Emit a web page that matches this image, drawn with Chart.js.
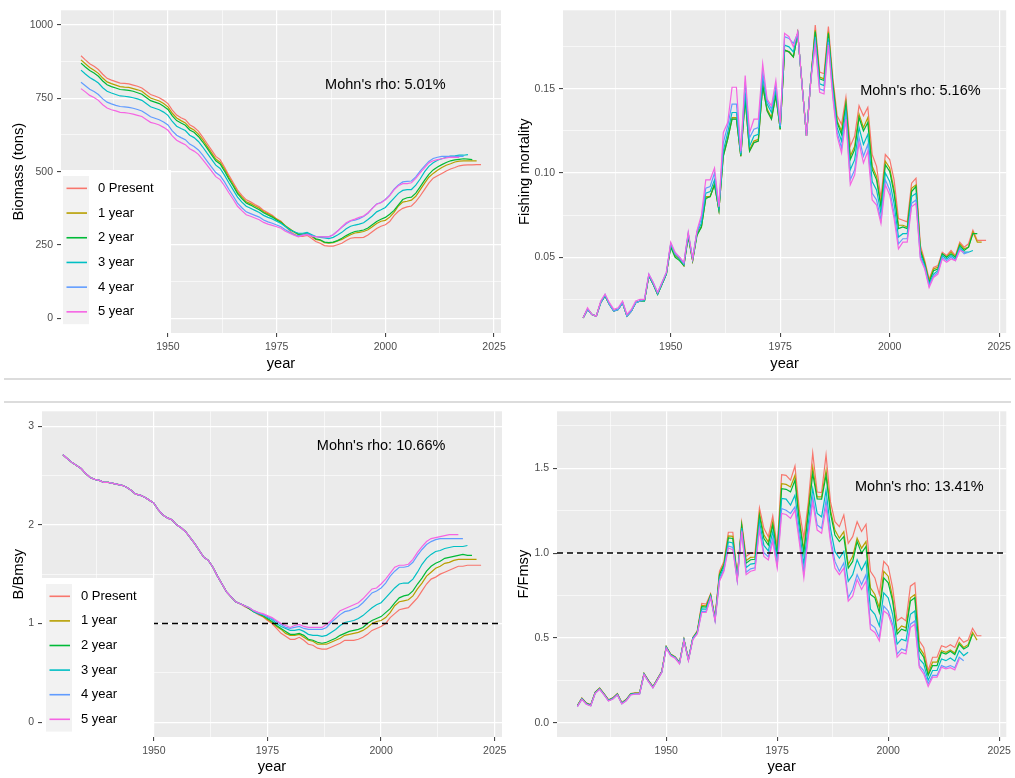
<!DOCTYPE html>
<html>
<head>
<meta charset="utf-8">
<title>Retrospective analysis</title>
<script src="https://cdn.jsdelivr.net/npm/chart.js@4.4.0/dist/chart.umd.min.js"></script>
<style>
  html, body { margin: 0; padding: 0; background: #fff; }
  #page { position: relative; width: 1015px; height: 778px; overflow: hidden; }
  #page canvas { position: absolute; }
  .rule { position: absolute; left: 4px; width: 1007px; height: 1.5px; background: #dcdcdc; }
</style>
</head>
<body>
<div id="page">
  <canvas id="cBio" width="520" height="378" style="left:0;top:0"></canvas>
  <canvas id="cF" width="510" height="378" style="left:505px;top:0"></canvas>
  <div class="rule" style="top:378px"></div>
  <div class="rule" style="top:401px"></div>
  <canvas id="cBB" width="520" height="377" style="left:0;top:401px"></canvas>
  <canvas id="cFF" width="510" height="377" style="left:505px;top:401px"></canvas>
</div>
<script>
// every series starts in 1930; each retro peel drops one more year at the end
const firstYear = 1930;
const seriesNames = ["0 Present", "1 year", "2 year", "3 year", "4 year", "5 year"];
const seriesColors = ["#F8766D", "#B79F00", "#00BA38", "#00BFC4", "#619CFF", "#F564E3"];

const xTicks = [1937.5, 1950, 1962.5, 1975, 1987.5, 2000, 2012.5, 2025];
const xMajor = [1950, 1975, 2000, 2025];

// ---- Biomass (tons)
const bioPresent = [
  895,881,868,859,848,832,818,812,807,802, 801,799,795,791,785,774,763,758,752,743,
  732,710,693,684,677,660,651,638,618,596, 574,552,541,516,488,463,437,419,404,397,
  388,380,368,360,351,339,331,314,298,287, 279,279,283,273,262,256,248,246,246,251,
  256,265,273,275,275,276,284,295,306,314, 319,330,350,365,375,380,383,398,417,439,
  461,478,486,494,502,509,514,520,522,523, 523,524,524];
const bio1 = [
  881,868,855,846,835,819,806,800,795,790, 788,787,783,779,774,762,751,746,741,732,
  721,699,683,674,666,650,642,628,609,587, 565,543,532,509,481,456,430,413,397,391,
  383,375,363,356,348,338,329,316,305,294, 285,285,291,280,269,266,258,256,258,264,
  269,277,285,291,293,296,302,312,323,331, 334,345,361,383,396,399,403,416,438,460,
  481,494,505,514,522,527,533,536,537,537, 537,537];
const bio2 = [
  870,857,845,836,825,809,796,790,785,780, 779,777,774,769,764,753,742,737,732,723,
  712,690,674,666,658,642,634,620,601,580, 558,537,526,502,475,451,425,408,393,386,
  378,370,360,352,345,335,327,314,303,295, 287,287,290,282,271,268,260,258,260,265,
  273,282,290,296,298,301,308,319,330,338, 344,355,368,387,405,411,413,427,448,470,
  491,506,516,524,531,537,540,542,544,543, 541];
const bio3 = [
  846,833,821,812,802,786,774,768,763,758, 757,755,752,748,743,732,721,716,711,703,
  692,671,655,647,640,624,616,603,584,563, 543,522,511,488,462,438,413,396,382,375,
  368,361,351,344,339,331,323,313,302,295, 290,290,293,286,279,276,274,272,276,284,
  293,305,314,318,321,326,337,349,363,370, 378,394,410,426,436,439,439,454,475,499,
  518,530,539,544,549,553,554,556,556,558];
const bio4 = [
  805,793,781,773,763,748,737,731,726,722, 721,719,716,712,707,697,687,682,677,669,
  659,639,624,616,609,594,586,574,556,536, 516,497,486,465,440,417,393,377,363,357,
  351,345,335,329,324,318,312,302,293,285, 281,285,288,282,279,279,278,278,285,298,
  310,322,332,335,340,347,358,375,390,395, 405,420,440,455,465,467,468,482,502,519,
  535,545,549,552,552,552,552,552,552];
const bio5 = [
  783,772,760,753,743,728,717,711,707,702, 701,699,696,692,688,678,668,664,659,651,
  641,622,607,599,592,578,570,559,541,522, 503,483,473,452,428,406,382,367,353,348,
  342,336,327,321,317,312,307,297,290,283, 278,283,285,280,278,278,278,278,285,297,
  312,326,333,338,344,349,360,375,389,394, 404,418,438,452,459,459,462,477,496,513,
  530,537,541,544,547,549,549,549];
const bioMajor = [0, 250, 500, 750, 1000];
const bioMinor = [125, 375, 625, 875];
const bioLabels = ["0", "250", "500", "750", "1000"];

// ---- Fishing mortality
const fPresent = [
  .014,.019,.016,.015,.023,.027,.022,.018,.019,.023, .015,.018,.023,.024,.024,.039,.034,.028,.034,.040,
  .057,.051,.049,.045,.063,.048,.064,.068,.085,.086, .093,.078,.110,.120,.132,.132,.110,.144,.113,.118,
  .119,.152,.137,.132,.146,.126,.173,.172,.169,.183, .152,.122,.156,.188,.160,.159,.187,.157,.134,.129,
  .145,.116,.122,.140,.134,.139,.111,.104,.085,.111, .108,.096,.073,.072,.071,.094,.097,.057,.048,.037,
  .044,.045,.053,.051,.054,.051,.059,.056,.058,.066, .060,.060,.060];
const f1 = [
  .014,.019,.016,.015,.023,.027,.022,.018,.019,.023, .015,.018,.023,.024,.024,.039,.034,.028,.034,.040,
  .057,.051,.049,.045,.063,.048,.064,.068,.086,.086, .094,.078,.111,.121,.133,.133,.110,.145,.114,.119,
  .120,.153,.138,.133,.147,.126,.173,.172,.169,.183, .152,.122,.156,.185,.157,.156,.184,.154,.131,.125,
  .142,.110,.116,.135,.127,.133,.104,.098,.081,.107, .103,.090,.069,.069,.068,.091,.093,.055,.047,.036,
  .043,.044,.052,.050,.053,.050,.058,.055,.056,.065, .059,.059];
const f2 = [
  .014,.019,.016,.015,.023,.027,.022,.018,.019,.023, .015,.018,.023,.024,.024,.039,.034,.028,.034,.040,
  .056,.050,.048,.045,.062,.048,.063,.068,.085,.086, .093,.078,.110,.120,.132,.132,.110,.144,.113,.118,
  .119,.152,.137,.132,.146,.126,.173,.172,.169,.183, .152,.122,.156,.184,.156,.155,.183,.153,.130,.123,
  .141,.108,.114,.133,.125,.130,.102,.096,.080,.105, .101,.088,.067,.068,.067,.089,.092,.054,.046,.035,
  .042,.043,.052,.050,.052,.050,.057,.054,.056,.064, .064];
const f3 = [
  .014,.019,.016,.015,.023,.027,.022,.018,.019,.023, .015,.018,.023,.024,.024,.039,.034,.028,.034,.040,
  .058,.052,.049,.046,.064,.049,.065,.070,.088,.089, .096,.079,.113,.124,.136,.136,.111,.148,.116,.122,
  .123,.157,.141,.136,.150,.127,.176,.175,.172,.183, .152,.122,.156,.181,.153,.152,.180,.150,.127,.119,
  .137,.102,.108,.127,.117,.123,.095,.090,.076,.100, .095,.082,.062,.064,.064,.086,.088,.052,.045,.034,
  .040,.042,.051,.049,.051,.049,.056,.053,.053,.054];
const f4 = [
  .014,.019,.016,.015,.023,.028,.022,.018,.019,.023, .015,.018,.023,.024,.025,.040,.035,.029,.035,.041,
  .058,.052,.050,.046,.064,.049,.065,.073,.091,.092, .100,.080,.118,.128,.141,.141,.112,.154,.121,.126,
  .127,.160,.143,.138,.152,.128,.181,.180,.177,.183, .152,.122,.156,.178,.150,.149,.178,.147,.124,.115,
  .134,.096,.102,.121,.110,.117,.088,.084,.072,.096, .090,.076,.058,.061,.061,.082,.084,.050,.044,.033,
  .039,.041,.050,.048,.050,.048,.055,.052,.053];
const f5 = [
  .014,.020,.016,.015,.024,.028,.023,.019,.020,.024, .016,.019,.024,.025,.025,.040,.035,.029,.035,.041,
  .059,.053,.050,.047,.065,.049,.066,.075,.096,.096, .103,.080,.124,.130,.151,.151,.113,.158,.124,.132,
  .132,.165,.144,.140,.155,.130,.183,.181,.175,.184, .152,.122,.155,.176,.148,.147,.176,.145,.122,.112,
  .132,.093,.099,.118,.106,.113,.084,.081,.070,.093, .087,.073,.055,.059,.059,.080,.082,.049,.043,.032,
  .038,.040,.049,.047,.049,.048,.054,.053];
const fMajor = [0.05, 0.10, 0.15];
const fMinor = [0.025, 0.075, 0.125, 0.175];
const fLabels = ["0.05", "0.10", "0.15"];

// ---- B/Bmsy
const bbPresent = [
  2.71,2.67,2.63,2.60,2.57,2.52,2.48,2.46,2.45,2.43, 2.43,2.42,2.41,2.40,2.38,2.35,2.31,2.30,2.28,2.25,
  2.22,2.15,2.10,2.07,2.05,2.00,1.97,1.93,1.87,1.81, 1.74,1.67,1.64,1.57,1.48,1.40,1.32,1.27,1.22,1.20,
  1.17,1.15,1.12,1.09,1.07,1.03,1.00,.95,.90,.87, .84,.84,.86,.83,.79,.78,.75,.74,.74,.76,
  .78,.80,.83,.83,.83,.84,.86,.89,.93,.95, .97,1.00,1.06,1.10,1.14,1.15,1.16,1.21,1.26,1.33,
  1.40,1.45,1.47,1.50,1.52,1.54,1.56,1.58,1.58,1.59, 1.59,1.59,1.59];
const bb1 = [
  2.71,2.67,2.63,2.60,2.57,2.52,2.48,2.46,2.45,2.43, 2.43,2.42,2.41,2.40,2.38,2.35,2.31,2.30,2.28,2.25,
  2.22,2.15,2.10,2.07,2.05,2.00,1.97,1.93,1.87,1.81, 1.74,1.67,1.64,1.57,1.48,1.40,1.32,1.27,1.22,1.20,
  1.18,1.15,1.12,1.10,1.07,1.04,1.01,.97,.94,.90, .88,.88,.89,.86,.83,.82,.79,.79,.79,.81,
  .83,.85,.88,.89,.90,.91,.93,.96,1.00,1.02, 1.03,1.06,1.11,1.18,1.22,1.23,1.24,1.28,1.35,1.41,
  1.48,1.52,1.56,1.58,1.61,1.62,1.64,1.65,1.65,1.65, 1.65,1.65];
const bb2 = [
  2.71,2.67,2.63,2.60,2.57,2.52,2.48,2.46,2.45,2.43, 2.43,2.42,2.41,2.40,2.38,2.35,2.31,2.30,2.28,2.25,
  2.22,2.15,2.10,2.07,2.05,2.00,1.97,1.93,1.87,1.81, 1.74,1.67,1.64,1.57,1.48,1.40,1.32,1.27,1.22,1.20,
  1.18,1.15,1.12,1.10,1.08,1.05,1.02,.98,.95,.92, .89,.89,.90,.88,.84,.83,.81,.80,.81,.83,
  .85,.88,.90,.92,.93,.94,.96,1.00,1.03,1.05, 1.07,1.11,1.15,1.21,1.26,1.28,1.29,1.33,1.40,1.46,
  1.53,1.58,1.61,1.63,1.66,1.67,1.68,1.69,1.70,1.69, 1.69];
const bb3 = [
  2.71,2.67,2.63,2.60,2.57,2.52,2.48,2.46,2.45,2.43, 2.43,2.42,2.41,2.40,2.38,2.35,2.31,2.30,2.28,2.25,
  2.22,2.15,2.10,2.07,2.05,2.00,1.97,1.93,1.87,1.81, 1.74,1.67,1.64,1.57,1.48,1.40,1.32,1.27,1.22,1.20,
  1.18,1.16,1.12,1.10,1.09,1.06,1.04,1.00,.97,.95, .93,.93,.94,.92,.89,.88,.88,.87,.88,.91,
  .94,.98,1.01,1.02,1.03,1.05,1.08,1.12,1.16,1.19, 1.21,1.26,1.31,1.36,1.40,1.41,1.41,1.45,1.52,1.60,
  1.66,1.70,1.73,1.74,1.76,1.77,1.78,1.78,1.78,1.79];
const bb4 = [
  2.71,2.67,2.63,2.60,2.57,2.52,2.48,2.46,2.45,2.43, 2.43,2.42,2.41,2.40,2.38,2.35,2.31,2.30,2.28,2.25,
  2.22,2.15,2.10,2.07,2.05,2.00,1.97,1.93,1.87,1.81, 1.74,1.67,1.64,1.57,1.48,1.40,1.32,1.27,1.22,1.20,
  1.18,1.16,1.13,1.11,1.09,1.07,1.05,1.02,.99,.96, .95,.96,.97,.95,.94,.94,.94,.94,.96,1.01,
  1.05,1.09,1.12,1.13,1.15,1.17,1.21,1.26,1.31,1.33, 1.36,1.41,1.48,1.53,1.57,1.57,1.58,1.62,1.69,1.75,
  1.80,1.83,1.85,1.86,1.86,1.86,1.86,1.86,1.86];
const bb5 = [
  2.71,2.67,2.63,2.60,2.57,2.52,2.48,2.46,2.45,2.43, 2.43,2.42,2.41,2.40,2.38,2.35,2.31,2.30,2.28,2.25,
  2.22,2.15,2.10,2.07,2.05,2.00,1.97,1.93,1.87,1.81, 1.74,1.67,1.64,1.57,1.48,1.40,1.32,1.27,1.22,1.20,
  1.18,1.16,1.13,1.11,1.10,1.08,1.06,1.03,1.00,.98, .96,.98,.99,.97,.96,.96,.96,.96,.99,1.03,
  1.08,1.13,1.15,1.17,1.19,1.21,1.25,1.30,1.35,1.36, 1.40,1.45,1.51,1.57,1.59,1.59,1.60,1.65,1.72,1.78,
  1.83,1.86,1.87,1.88,1.89,1.90,1.90,1.90];
const bbMajor = [0, 1, 2, 3];
const bbMinor = [0.5, 1.5, 2.5];
const bbLabels = ["0", "1", "2", "3"];

// ---- F/Fmsy
const ffPresent = [
  .103,.146,.117,.107,.181,.205,.172,.136,.148,.172, .119,.138,.172,.177,.177,.292,.250,.214,.259,.304,
  .450,.405,.390,.357,.493,.376,.503,.542,.704,.700, .760,.620,.893,.951,1.123,1.123,.860,1.180,.980,1.000,
  1.000,1.267,1.146,1.097,1.220,1.039,1.462,1.458,1.430,1.513, 1.250,1.088,1.300,1.590,1.360,1.357,1.579,1.302,1.185,1.156,
  1.224,1.058,1.097,1.185,1.127,1.170,.893,.854,.756,.951, .922,.795,.600,.620,.600,.805,.825,.483,.444,.308,
  .386,.386,.454,.444,.460,.444,.503,.474,.487,.557, .513,.513];
const ff1 = [
  .101,.144,.115,.105,.179,.203,.170,.134,.146,.170, .117,.136,.170,.175,.175,.290,.248,.212,.257,.302,
  .448,.403,.388,.355,.491,.374,.501,.538,.692,.689, .755,.615,.879,.938,1.102,1.099,.854,1.168,.955,.975,
  .977,1.237,1.108,1.065,1.185,1.010,1.409,1.405,1.390,1.458, 1.200,1.019,1.263,1.507,1.331,1.331,1.487,1.253,1.136,1.088,
  1.127,.932,.981,1.088,1.029,1.068,.795,.756,.678,.893, .864,.737,.542,.571,.561,.737,.756,.444,.405,.288,
  .357,.357,.425,.415,.429,.411,.474,.444,.460,.532, .487];
const ff2 = [
  .100,.143,.114,.104,.178,.202,.169,.133,.145,.169, .116,.135,.169,.174,.174,.289,.247,.211,.256,.301,
  .447,.402,.387,.354,.490,.373,.500,.536,.685,.682, .752,.613,.872,.930,1.090,1.086,.851,1.161,.941,.961,
  .964,1.220,1.086,1.048,1.165,.993,1.380,1.376,1.361,1.429, 1.180,1.000,1.234,1.468,1.320,1.318,1.458,1.234,1.107,1.068,
  1.097,.912,.951,1.068,1.000,1.039,.756,.737,.649,.854, .825,.717,.522,.552,.542,.717,.737,.425,.386,.279,
  .337,.337,.415,.405,.421,.402,.464,.435,.450,.522];
const ff3 = [
  .098,.141,.112,.102,.176,.200,.167,.131,.143,.167, .114,.133,.167,.172,.172,.287,.245,.209,.254,.299,
  .445,.400,.385,.352,.488,.371,.498,.532,.671,.670, .746,.608,.857,.916,1.066,1.060,.845,1.148,.915,.935,
  .939,1.187,1.045,1.013,1.127,.962,1.322,1.318,1.283,1.341, 1.140,.932,1.175,1.380,1.234,1.214,1.370,1.146,1.010,.970,
  1.010,.834,.873,.961,.900,.951,.669,.639,.571,.766, .737,.639,.464,.493,.483,.639,.659,.376,.347,.250,
  .308,.308,.376,.366,.382,.363,.425,.396,.415];
const ff4 = [
  .096,.139,.110,.100,.174,.198,.165,.129,.141,.165, .112,.131,.165,.170,.170,.285,.243,.207,.252,.297,
  .443,.398,.383,.350,.486,.369,.496,.527,.657,.657, .740,.603,.842,.901,1.042,1.033,.838,1.134,.887,.907,
  .913,1.153,1.002,.978,1.088,.929,1.263,1.253,1.234,1.273, 1.090,.883,1.127,1.330,1.166,1.146,1.312,1.088,.951,.893,
  .942,.737,.786,.873,.815,.873,.581,.561,.503,.688, .659,.581,.405,.435,.425,.581,.600,.337,.308,.230,
  .279,.279,.337,.327,.337,.324,.386,.366];
const ff5 = [
  .095,.138,.109,.099,.173,.197,.164,.128,.140,.164, .111,.130,.164,.169,.169,.284,.242,.206,.251,.296,
  .440,.395,.380,.347,.483,.366,.490,.525,.650,.650, .737,.600,.834,.893,1.030,1.020,.835,1.127,.873,.893,
  .900,1.136,.980,.960,1.068,.912,1.234,1.228,1.205,1.253, 1.060,.854,1.097,1.300,1.136,1.117,1.273,1.068,.912,.873,
  .912,.717,.746,.844,.786,.834,.552,.532,.483,.659, .639,.561,.386,.415,.405,.561,.581,.327,.288,.214,
  .269,.269,.327,.318,.325,.312,.376];
const ffMajor = [0, 0.5, 1.0, 1.5];
const ffMinor = [0.25, 0.75, 1.25, 1.75];
const ffLabels = ["0.0", "0.5", "1.0", "1.5"];

const FONT = "'Liberation Sans', Arial, sans-serif";
Chart.defaults.font.family = FONT;

function toPoints(vals) {
  return vals.map((v, i) => ({ x: firstYear + i, y: v }));
}

function drawLegend(ctx, L) {
  ctx.fillStyle = "#FFFFFF";
  ctx.fillRect(L.x, L.y, L.w, L.h);
  ctx.fillStyle = "#F2F2F2";
  ctx.fillRect(L.keyX, L.keyTop, 26, L.step * seriesNames.length);
  ctx.font = "13px " + FONT;
  ctx.textAlign = "left";
  ctx.textBaseline = "middle";
  seriesNames.forEach((name, k) => {
    const cy = L.keyTop + L.step * (k + 0.5);
    ctx.strokeStyle = seriesColors[k];
    ctx.lineWidth = 1.6;
    ctx.beginPath();
    ctx.moveTo(L.keyX + 3.5, cy);
    ctx.lineTo(L.keyX + 24, cy);
    ctx.stroke();
    ctx.fillStyle = "#000";
    ctx.fillText(name, L.textX, cy);
  });
}

// grey ggplot panel, reference line, Mohn's rho label and legend
const ggPanel = {
  id: "ggPanel",
  beforeDraw(chart) {
    const { ctx, chartArea: a } = chart;
    ctx.save();
    ctx.fillStyle = "#EBEBEB";
    ctx.fillRect(a.left, a.top, a.right - a.left, a.bottom - a.top);
    ctx.restore();
  },
  afterDatasetsDraw(chart, args, opts) {
    const { ctx, chartArea: a } = chart;
    const x = chart.scales.x, y = chart.scales.y;
    ctx.save();
    if (opts.hline !== null && opts.hline !== undefined) {
      const py = y.getPixelForValue(opts.hline);
      ctx.strokeStyle = "#000";
      ctx.lineWidth = 1.5;
      ctx.setLineDash([6, 4]);
      ctx.beginPath();
      ctx.moveTo(a.left, py);
      ctx.lineTo(a.right, py);
      ctx.stroke();
      ctx.setLineDash([]);
    }
    ctx.fillStyle = "#000";
    ctx.font = "14.5px " + FONT;
    ctx.textAlign = "center";
    ctx.textBaseline = "middle";
    ctx.fillText(opts.rhoText, x.getPixelForValue(opts.rhoX), y.getPixelForValue(opts.rhoY));
    if (opts.legend) drawLegend(ctx, opts.legend);
    ctx.restore();
  },
};

function drawPanel(id, p) {
  const isMajorY = v => p.yMajor.indexOf(v) >= 0;
  const isMajorX = v => xMajor.indexOf(v) >= 0;
  return new Chart(document.getElementById(id), {
    type: "line",
    data: {
      datasets: p.series.map((vals, k) => ({
        label: seriesNames[k],
        data: toPoints(vals),
        borderColor: seriesColors[k],
        borderWidth: 1.2,
        pointRadius: 0,
        tension: 0,
        order: seriesNames.length - 1 - k,
      })),
    },
    options: {
      responsive: false,
      animation: false,
      events: [],
      layout: { padding: { top: p.padTop, right: p.padRight, left: 0, bottom: 0 } },
      plugins: {
        legend: { display: false },
        tooltip: { enabled: false },
        ggPanel: { hline: p.hline, rhoText: p.rhoText, rhoX: p.rhoX, rhoY: p.rhoY, legend: p.legend },
      },
      scales: {
        x: {
          type: "linear",
          bounds: "data",
          min: 1925.4,
          max: 2026.6,
          afterBuildTicks: s => { s.ticks = xTicks.map(v => ({ value: v })); },
          afterFit: s => { s.height = p.xAxisHeight; },
          ticks: {
            autoSkip: false,
            maxRotation: 0,
            padding: 4,
            color: "#4D4D4D",
            font: { size: 10.5 },
            callback: v => (isMajorX(v) ? String(v) : ""),
          },
          grid: {
            color: "#FFFFFF",
            lineWidth: c => (isMajorX(c.tick.value) ? 1.2 : 0.6),
            tickLength: 4,
            tickWidth: 1,
            tickColor: c => (isMajorX(c.tick.value) ? "#333333" : "rgba(0,0,0,0)"),
          },
          border: { display: false },
          title: { display: true, text: "year", color: "#000", font: { size: 14.67 }, padding: { top: 0, bottom: p.xTitlePad } },
        },
        y: {
          type: "linear",
          bounds: "data",
          min: p.yMin,
          max: p.yMax,
          afterBuildTicks: s => {
            s.ticks = p.yMajor.concat(p.yMinor).sort((a, b) => a - b).map(v => ({ value: v }));
          },
          afterFit: s => { s.width = p.yAxisWidth; },
          ticks: {
            autoSkip: false,
            padding: 4,
            color: "#4D4D4D",
            font: { size: 10.5 },
            callback: v => { const i = p.yMajor.indexOf(v); return i < 0 ? "" : p.yLabels[i]; },
          },
          grid: {
            color: "#FFFFFF",
            lineWidth: c => (isMajorY(c.tick.value) ? 1.2 : 0.6),
            tickLength: 4,
            tickWidth: 1,
            tickColor: c => (isMajorY(c.tick.value) ? "#333333" : "rgba(0,0,0,0)"),
          },
          border: { display: false },
          title: { display: true, text: p.yTitle, color: "#000", font: { size: 14.67 }, padding: { top: p.yTitlePad, bottom: 0 } },
        },
      },
    },
    plugins: [ggPanel],
  });
}

drawPanel("cBio", {
  series: [bioPresent, bio1, bio2, bio3, bio4, bio5],
  yMin: -50, yMax: 1050, yMajor: bioMajor, yMinor: bioMinor, yLabels: bioLabels,
  yTitle: "Biomass (tons)", yAxisWidth: 61, yTitlePad: 10,
  padTop: 6, padRight: 19, xAxisHeight: 45, xTitlePad: 5,
  hline: null, rhoText: "Mohn's rho: 5.01%", rhoX: 2000, rhoY: 795,
  legend: { x: 61, y: 170, w: 110, h: 163, keyX: 63, keyTop: 176, step: 24.7, textX: 98 },
});

drawPanel("cF", {
  series: [fPresent, f1, f2, f3, f4, f5],
  yMin: 0.005, yMax: 0.1967, yMajor: fMajor, yMinor: fMinor, yLabels: fLabels,
  yTitle: "Fishing mortality", yAxisWidth: 58, yTitlePad: 11,
  padTop: 6, padRight: 8, xAxisHeight: 45, xTitlePad: 5,
  hline: null, rhoText: "Mohn's rho: 5.16%", rhoX: 2007, rhoY: 0.149,
  legend: null,
});

drawPanel("cBB", {
  series: [bbPresent, bb1, bb2, bb3, bb4, bb5],
  yMin: -0.15, yMax: 3.15, yMajor: bbMajor, yMinor: bbMinor, yLabels: bbLabels,
  yTitle: "B/Bmsy", yAxisWidth: 42, yTitlePad: 10,
  padTop: 7, padRight: 18, xAxisHeight: 41, xTitlePad: 2.5,
  hline: 1, rhoText: "Mohn's rho: 10.66%", rhoX: 2000, rhoY: 2.8,
  legend: { x: 42, y: 177, w: 112, h: 159, keyX: 46, keyTop: 183, step: 24.6, textX: 81 },
});

drawPanel("cFF", {
  series: [ffPresent, ff1, ff2, ff3, ff4, ff5],
  yMin: -0.084, yMax: 1.836, yMajor: ffMajor, yMinor: ffMinor, yLabels: ffLabels,
  yTitle: "F/Fmsy", yAxisWidth: 52, yTitlePad: 10,
  padTop: 7, padRight: 8, xAxisHeight: 41, xTitlePad: 2.5,
  hline: 1, rhoText: "Mohn's rho: 13.41%", rhoX: 2007, rhoY: 1.39,
  legend: null,
});
</script>
</body>
</html>
